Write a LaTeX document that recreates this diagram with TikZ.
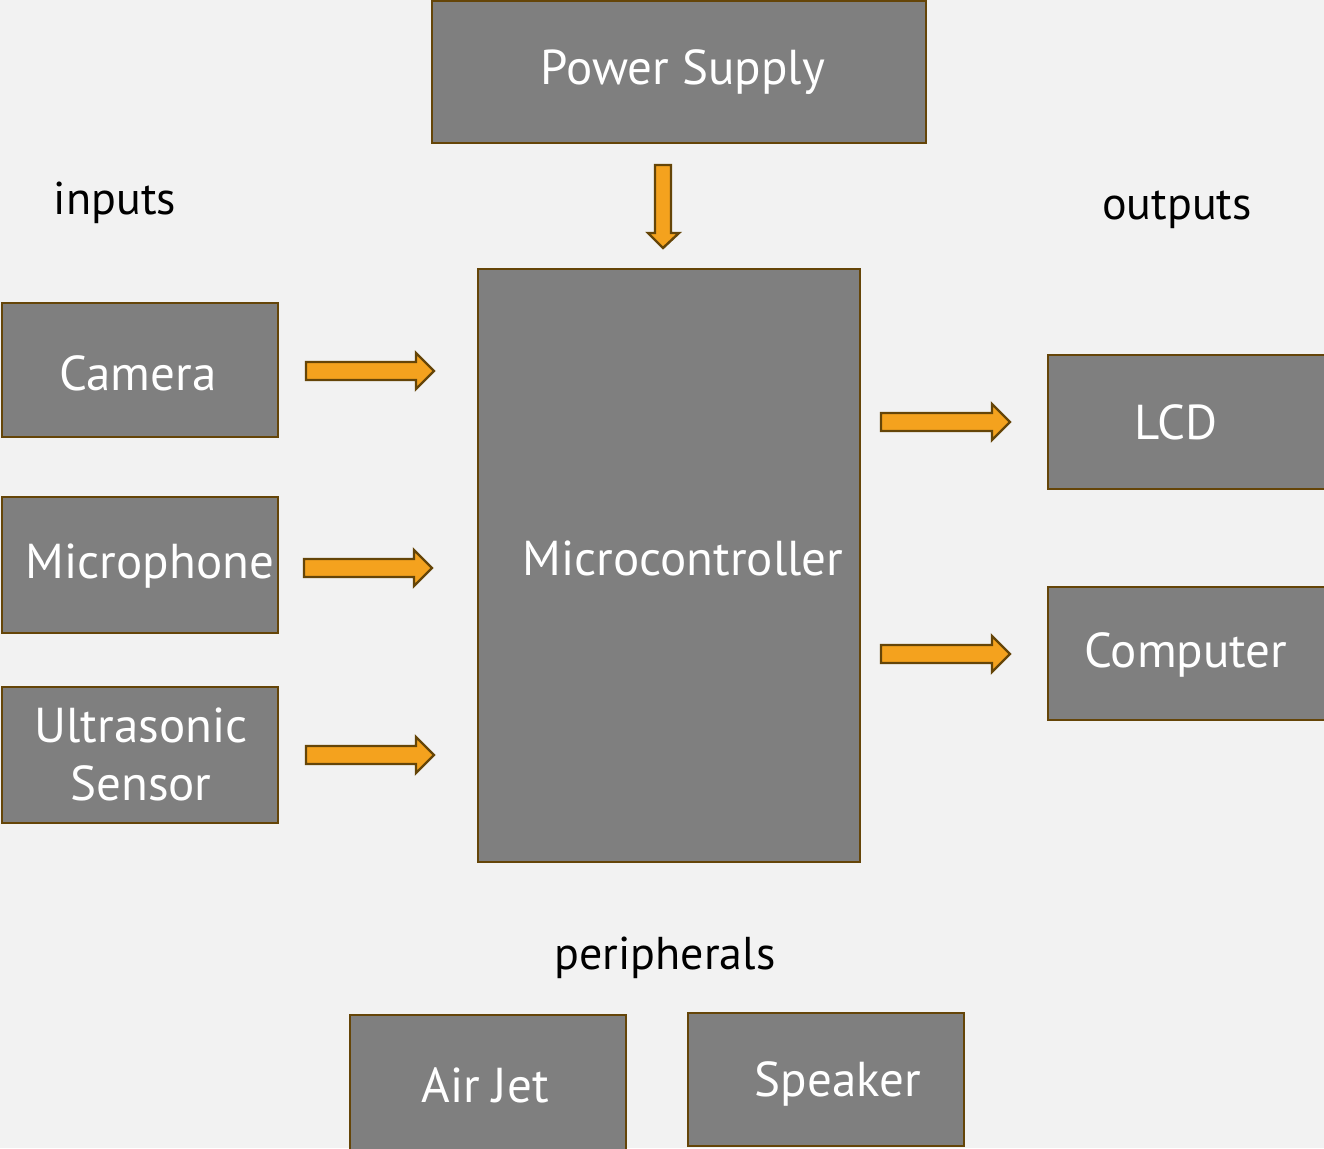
\documentclass[tikz,border=0pt]{standalone}
\usepackage{fontspec}
\setmainfont{PT Sans}
\definecolor{bg}{HTML}{F2F2F2}
\definecolor{boxfill}{HTML}{7F7F7F}
\definecolor{boxline}{HTML}{654508}
\definecolor{arrfill}{HTML}{F4A21E}
\tikzset{
  blk/.style={draw=boxline, fill=boxfill, line width=2.4pt},
  blktxt/.style={text=white, font=\fontsize{49}{58}\selectfont, align=center, inner sep=0pt},
  lbl/.style={text=black, font=\fontsize{46}{52}\selectfont},
  arr/.style={draw=boxline, fill=arrfill, line width=2.4pt, line join=miter}
}
\newcommand\rarr[3]{% x1, x2, y
  \draw[arr] (#1,#3-9) -- (#2-18,#3-9) -- (#2-18,#3-18) -- (#2,#3) -- (#2-18,#3+18) -- (#2-18,#3+9) -- (#1,#3+9) -- cycle;}
\begin{document}
\begin{tikzpicture}[x=1pt,y=-1pt]
\fill[bg] (0,0) rectangle (1324,1148);
\useasboundingbox (0,0) rectangle (1324,1148);
% boxes
\draw[blk] (432,1) rectangle (926,143);
\node[blktxt] (ps) at (683,72) {Power Supply};
\draw[blk] (478,269) rectangle (860,862);
\node[blktxt] (mc) at (683,558) {Microcontroller};
\draw[blk] (2,303) rectangle (278,437);
\node[blktxt] (cam) at (138,373) {Camera};
\draw[blk] (2,497) rectangle (278,633);
\node[blktxt] (mic) at (150,566) {Microphone};
\draw[blk] (2,687) rectangle (278,823);
\node[blktxt] (us) at (141,754) {Ultrasonic\\Sensor};
\draw[blk] (1048,355) rectangle (1326,489);
\node[blktxt] (lcd) at (1176,422) {LCD};
\draw[blk] (1048,587) rectangle (1326,720);
\node[blktxt] (comp) at (1186,655) {Computer};
\draw[blk] (350,1015) rectangle (626,1150);
\node[blktxt] (aj) at (485,1085) {Air Jet};
\draw[blk] (688,1013) rectangle (964,1146);
\node[blktxt] (spk) at (838,1084) {Speaker};
% labels
\node[lbl] (in) at (115,203) {inputs};
\node[lbl] (out) at (1177,210) {outputs};
\node[lbl] (per) at (665,958) {peripherals};
% arrows
\rarr{306}{434}{371}
\rarr{304}{432}{568}
\rarr{306}{434}{755}
\rarr{881}{1010}{422}
\rarr{881}{1010}{654}
\draw[arr] (655,165) -- (671,165) -- (671,233) -- (679,233) -- (663,248) -- (648,233) -- (655,233) -- cycle;
\end{tikzpicture}
\end{document}
